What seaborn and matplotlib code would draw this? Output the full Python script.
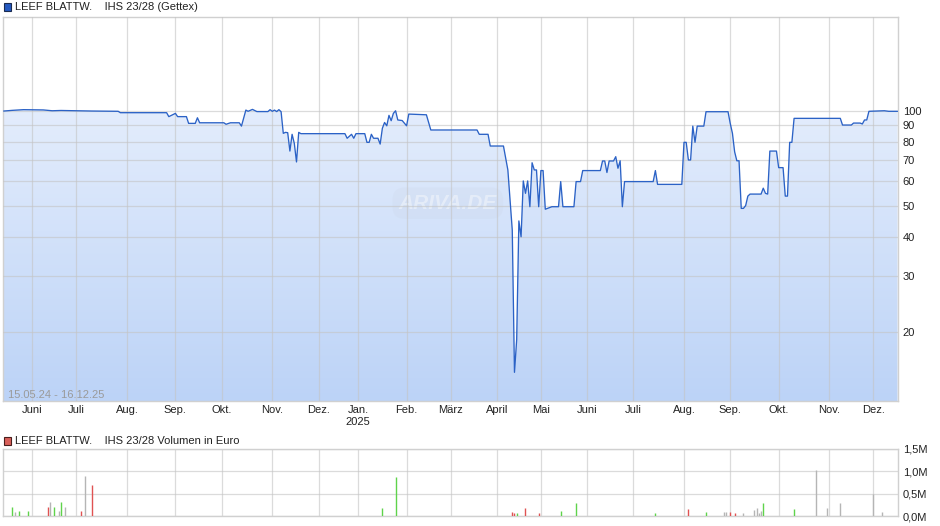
import numpy as np
import pandas as pd
import matplotlib
matplotlib.use("Agg")
import matplotlib.pyplot as plt
import matplotlib.colors as mcolors
from matplotlib.patches import Rectangle, Polygon
from matplotlib.ticker import NullLocator
import seaborn as sns

sns.set_style("white")
plt.rcParams['font.family'] = ['Liberation Sans', 'DejaVu Sans']

# ---------------- data ----------------
holidays = ["2024-12-24", "2024-12-25", "2024-12-26", "2024-12-31",
            "2025-01-01", "2025-04-18", "2025-04-21", "2025-05-01"]

price_dates = [
    "2024-05-15", "2024-05-21", "2024-05-28", "2024-06-10", "2024-06-14",
    "2024-06-20", "2024-07-10", "2024-07-26", "2024-07-29", "2024-08-27",
    "2024-08-28", "2024-09-02", "2024-09-03", "2024-09-09", "2024-09-10",
    "2024-09-13", "2024-09-16", "2024-09-17", "2024-10-02", "2024-10-03",
    "2024-10-07", "2024-10-11", "2024-10-14", "2024-10-16", "2024-10-17",
    "2024-10-21", "2024-10-23", "2024-10-30", "2024-10-31", "2024-11-01",
    "2024-11-04", "2024-11-05", "2024-11-06", "2024-11-07", "2024-11-08",
    "2024-11-11", "2024-11-12", "2024-11-13", "2024-11-14", "2024-11-15",
    "2024-11-18", "2024-11-19", "2024-11-20", "2024-12-18", "2024-12-19",
    "2024-12-23", "2024-12-27", "2024-12-30", "2025-01-07", "2025-01-08",
    "2025-01-09", "2025-01-10", "2025-01-13", "2025-01-15", "2025-01-16",
    "2025-01-17", "2025-01-20", "2025-01-21", "2025-01-22", "2025-01-23",
    "2025-01-24", "2025-01-27", "2025-01-28", "2025-01-30", "2025-02-03",
    "2025-02-04", "2025-02-14", "2025-02-18", "2025-03-19", "2025-03-20",
    "2025-03-26", "2025-03-27", "2025-04-04", "2025-04-08", "2025-04-10",
    "2025-04-11", "2025-04-14", "2025-04-15", "2025-04-16", "2025-04-17",
    "2025-04-22", "2025-04-23", "2025-04-24", "2025-04-25", "2025-04-28",
    "2025-04-29", "2025-04-30", "2025-05-02", "2025-05-05", "2025-05-06",
    "2025-05-08", "2025-05-09", "2025-05-14", "2025-05-15", "2025-05-16",
    "2025-05-23", "2025-05-26", "2025-05-28", "2025-05-29", "2025-06-10",
    "2025-06-11", "2025-06-12", "2025-06-13", "2025-06-16", "2025-06-18",
    "2025-06-19", "2025-06-20", "2025-06-23", "2025-06-24", "2025-06-25",
    "2025-07-14", "2025-07-15", "2025-07-16", "2025-07-31", "2025-08-01",
    "2025-08-04", "2025-08-05", "2025-08-06", "2025-08-07", "2025-08-08",
    "2025-08-11", "2025-08-14", "2025-08-15", "2025-08-29", "2025-09-01",
    "2025-09-02", "2025-09-03", "2025-09-04", "2025-09-05", "2025-09-08",
    "2025-09-09", "2025-09-10", "2025-09-11", "2025-09-12", "2025-09-19",
    "2025-09-22", "2025-09-23", "2025-09-24", "2025-09-25", "2025-09-30",
    "2025-10-01", "2025-10-03", "2025-10-06", "2025-10-07", "2025-10-08",
    "2025-10-09", "2025-10-10", "2025-11-10", "2025-11-11", "2025-11-17",
    "2025-11-18", "2025-11-21", "2025-11-24", "2025-11-25", "2025-11-26",
    "2025-11-27", "2025-12-08", "2025-12-10", "2025-12-16",
]
price_values = [
    100.0, 100.5, 101.0, 100.8, 100.2,
    100.4, 100.0, 99.8, 98.8, 98.8,
    96.0, 98.3, 96.0, 96.0, 91.4,
    91.4, 95.2, 91.8, 91.8, 90.8,
    91.8, 91.8, 89.6, 100.7, 99.8,
    101.2, 99.6, 99.6, 101.0, 99.8,
    100.7, 99.6, 101.0, 99.5, 85.0,
    85.6, 85.4, 74.7, 84.4, 79.0,
    69.0, 85.6, 84.8, 84.8, 82.0,
    84.4, 82.0, 84.8, 84.8, 79.6,
    79.6, 84.4, 82.0, 82.0, 78.6,
    88.2, 92.0, 89.8, 96.9, 93.2,
    98.3, 100.2, 93.7, 93.3, 89.8,
    97.8, 97.3, 87.1, 87.1, 84.4,
    84.4, 77.5, 77.5, 65.1, 42.0,
    14.9, 18.9, 44.9, 40.0, 60.1,
    54.9, 60.1, 49.8, 68.6, 65.1,
    65.1, 49.8, 64.8, 64.8, 48.9,
    49.5, 49.8, 49.8, 59.8, 49.8,
    49.8, 59.8, 59.8, 64.8, 64.8,
    69.5, 69.5, 63.9, 69.5, 69.5,
    71.7, 65.9, 69.6, 49.8, 59.8,
    59.8, 64.8, 58.6, 58.6, 79.6,
    79.6, 70.0, 70.0, 89.6, 79.6,
    89.6, 89.6, 99.5, 99.5, 91.4,
    85.0, 74.3, 69.6, 69.6, 49.2,
    49.2, 50.2, 53.8, 54.6, 54.6,
    57.0, 54.9, 54.6, 74.7, 74.7,
    66.2, 66.2, 53.8, 53.8, 79.6,
    79.6, 94.8, 94.8, 90.3, 90.3,
    91.6, 91.6, 91.0, 93.7, 93.7,
    99.8, 100.2, 99.8, 99.8,
]

vol_dates = [
    "2024-05-21", "2024-05-22", "2024-05-24", "2024-05-30", "2024-06-12",
    "2024-06-13", "2024-06-17", "2024-06-19", "2024-06-20", "2024-06-24",
    "2024-07-03", "2024-07-05", "2024-07-10", "2025-01-17", "2025-01-27",
    "2025-04-10", "2025-04-11", "2025-04-14", "2025-04-22", "2025-04-30",
    "2025-05-15", "2025-05-26", "2025-07-15", "2025-08-05", "2025-08-15",
    "2025-08-27", "2025-08-28", "2025-09-01", "2025-09-03", "2025-09-09",
    "2025-09-16", "2025-09-17", "2025-09-18", "2025-09-19", "2025-09-22",
    "2025-10-06", "2025-10-10", "2025-10-15", "2025-10-24", "2025-10-31",
    "2025-11-10", "2025-12-01", "2025-12-05",
]
vol_values = [  # Mio. Euro
    0.20, 0.10, 0.12, 0.12, 0.20,
    0.32, 0.20, 0.12, 0.32, 0.20,
    0.12, 0.90, 0.69, 0.18, 0.87,
    0.10, 0.07, 0.07, 0.18, 0.07,
    0.12, 0.29, 0.07, 0.16, 0.09,
    0.09, 0.09, 0.09, 0.07, 0.07,
    0.13, 0.18, 0.07, 0.11, 0.29,
    0.01, 0.16, 0.01, 1.03, 0.18,
    0.29, 0.49, 0.09,
]
vol_dir = [
    "up", "flat", "up", "up", "down",
    "flat", "up", "flat", "up", "flat",
    "down", "flat", "down", "up", "up",
    "down", "down", "up", "down", "down",
    "up", "up", "up", "down", "up",
    "flat", "flat", "down", "down", "flat",
    "flat", "flat", "flat", "flat", "up",
    "down", "up", "flat", "flat", "flat",
    "flat", "flat", "flat",
]

month_labels = ["Juni", "Juli", "Aug.", "Sep.", "Okt.", "Nov.", "Dez.",
                "Jan.\n2025", "Feb.", "März", "April", "Mai", "Juni", "Juli",
                "Aug.", "Sep.", "Okt.", "Nov.", "Dez."]
price_ticks = [20, 30, 40, 50, 60, 70, 80, 90, 100]
vol_ticks = [0.0, 0.5, 1.0, 1.5]
vol_tick_labels = ["0,0M", "0,5M", "1,0M", "1,5M"]

title_price = "LEEF BLATTW.    IHS 23/28 (Gettex)"
title_vol = "LEEF BLATTW.    IHS 23/28 Volumen in Euro"
range_label = "15.05.24 - 16.12.25"

# ---------------- trading-day axis ----------------
days = pd.bdate_range("2024-05-15", "2025-12-16", freq="C", holidays=holidays)
idx = pd.Series(np.arange(len(days)), index=days)
month_first = idx.groupby(days.to_period("M")).first().values[1:]
ppos = days.get_indexer(pd.to_datetime(price_dates))
vpos = days.get_indexer(pd.to_datetime(vol_dates))

XLIM = (-0.31, 406.2)
YLIM = (12.09, 198.4)

LINE = "#2b62c6"
GRID = "#c4c4c4"
SPINE = "#d0d0d0"
TXT = "#222222"

fig = plt.figure(figsize=(9.4, 5.26), dpi=100)
ax = fig.add_axes([3 / 940, 125 / 526, 895 / 940, 384 / 526])
axv = fig.add_axes([3 / 940, 10 / 526, 895 / 940, 67 / 526])

# ---------------- price panel ----------------
ax.set_yscale("log")
df = pd.DataFrame({"pos": ppos, "value": price_values})
sns.lineplot(data=df, x="pos", y="value", ax=ax, color=LINE, lw=0.95,
             zorder=4, estimator=None)

# gradient fill under the line
verts = [(ppos[0], YLIM[0])] + list(zip(ppos, price_values)) + [(ppos[-1], YLIM[0])]
poly = Polygon(verts, closed=True, facecolor="none", edgecolor="none",
               transform=ax.transData)
ax.add_patch(poly)
cmap = mcolors.LinearSegmentedColormap.from_list("fill", ["#f0f5fe", "#bcd3f7"])
grad = np.linspace(0, 1, 256).reshape(-1, 1)
im = ax.imshow(grad, extent=[0, 1, 0, 1], transform=ax.transAxes,
               aspect="auto", cmap=cmap, zorder=1, interpolation="bilinear")
im.set_clip_path(poly)

ax.set_xlim(*XLIM)
ax.set_ylim(*YLIM)
ax.yaxis.set_minor_locator(NullLocator())
ax.set_yticks(price_ticks)
ax.set_yticklabels([str(v) for v in price_ticks])
ax.yaxis.tick_right()
ax.set_xticks(month_first)
ax.set_xticklabels(month_labels)
ax.tick_params(axis="both", length=0, labelsize=8, colors=TXT)
ax.tick_params(axis="y", pad=3.5)
ax.tick_params(axis="x", pad=3)
ax.set_axisbelow(False)
ax.grid(True, color=GRID, lw=0.9, alpha=0.6)
ax.set_xlabel("")
ax.set_ylabel("")
for s in ax.spines.values():
    s.set_color(SPINE)
    s.set_linewidth(1)

ax.text((8 - 3) / 895, (401 - 395) / 384, range_label, transform=ax.transAxes,
        fontsize=8, color="#9a9a9a", va="center", ha="left", zorder=5)

ax.text(0.497, 0.515, "ARIVA.DE", transform=ax.transAxes, fontsize=15,
        fontweight="bold", style="italic", color="white", alpha=0.4,
        ha="center", va="center", zorder=2,
        bbox=dict(boxstyle="round,pad=0.3,rounding_size=0.6",
                  facecolor="#c8d2e2", edgecolor="none", alpha=0.18))

# ---------------- volume panel ----------------
vcol = {"up": "#5fd34b", "down": "#e05252", "flat": "#b5b5b5"}
axv.vlines(vpos, 0, vol_values, colors=[vcol[d] for d in vol_dir], lw=1,
           zorder=3)
axv.set_xlim(*XLIM)
axv.set_ylim(0, 1.5)
axv.set_yticks(vol_ticks)
axv.set_yticklabels(vol_tick_labels)
axv.yaxis.tick_right()
axv.set_xticks(month_first)
axv.set_xticklabels([])
axv.tick_params(axis="both", length=0, labelsize=8, colors=TXT)
axv.tick_params(axis="y", pad=3.5)
axv.grid(True, color=GRID, lw=0.9, alpha=0.6)
for s in axv.spines.values():
    s.set_color(SPINE)
    s.set_linewidth(1)

# ---------------- headers ----------------
fig.add_artist(Rectangle((4 / 940, 1 - 11 / 526), 7 / 940, 8 / 526,
                         transform=fig.transFigure, facecolor="#2459c0",
                         edgecolor="#1b2b50", lw=0.8))
fig.text(15 / 940, 1 - 6.5 / 526, title_price, fontsize=8, color=TXT,
         va="center", ha="left")
fig.add_artist(Rectangle((4 / 940, 1 - 445 / 526), 7 / 940, 8 / 526,
                         transform=fig.transFigure, facecolor="#d9605a",
                         edgecolor="#4a1f1d", lw=0.8))
fig.text(15 / 940, 1 - 440.5 / 526, title_vol, fontsize=8, color=TXT,
         va="center", ha="left")

fig.savefig("out.png", dpi=100, facecolor="white")
